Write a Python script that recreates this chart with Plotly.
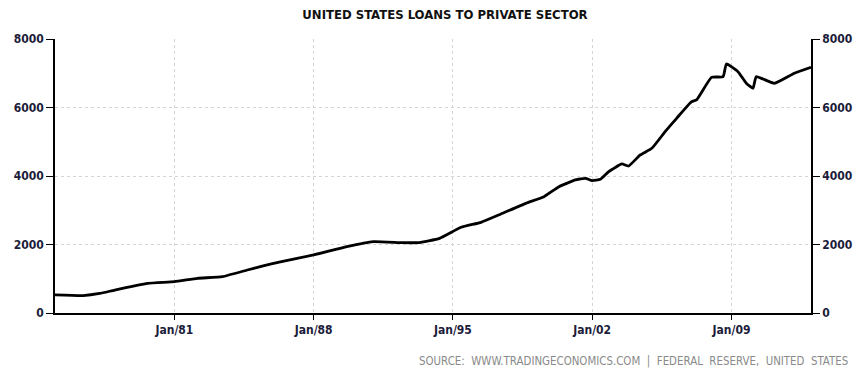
import plotly.graph_objects as go

dates = ["1975-01-01", "1976-06-01", "1977-04-01", "1978-01-01", "1979-09-01", "1981-01-01",
         "1982-03-01", "1983-06-01", "1984-09-01", "1985-06-01", "1986-05-01", "1988-01-01",
         "1989-09-01", "1991-01-01", "1992-06-01", "1993-04-01", "1994-05-01",
         "1995-06-01", "1996-06-01", "1997-06-01", "1998-09-01", "1999-08-01",
         "2000-05-01", "2001-03-01", "2001-09-01", "2002-01-01", "2002-06-01",
         "2002-11-01", "2003-07-01", "2003-11-01", "2004-06-01", "2005-01-01",
         "2005-09-01", "2006-04-01", "2007-01-01", "2007-04-01", "2008-01-01",
         "2008-08-01", "2008-10-01", "2009-05-01", "2009-10-01", "2010-02-01",
         "2010-04-01", "2011-03-01", "2012-03-01", "2013-01-01"]
values = [530, 510, 570, 670, 866, 915,
          1012, 1061, 1256, 1370, 1490, 1694,
          1937, 2083, 2054, 2054, 2180,
          2502, 2648, 2890, 3202, 3397,
          3689, 3884, 3933, 3864, 3903,
          4127, 4351, 4292, 4614, 4809,
          5294, 5684, 6170, 6220, 6880,
          6900, 7271, 7047, 6707, 6561,
          6900, 6707, 7000, 7175]

tick_dates = ["1981-01-01", "1988-01-01", "1995-01-01", "2002-01-01", "2009-01-01"]
tick_labels = ["Jan/81", "Jan/88", "Jan/95", "Jan/02", "Jan/09"]
y_ticks = [0, 2000, 4000, 6000, 8000]

title_text = "UNITED STATES LOANS TO PRIVATE SECTOR"
source_text = "SOURCE:&nbsp; WWW.TRADINGECONOMICS.COM&nbsp; |&nbsp; FEDERAL&nbsp; RESERVE,&nbsp; UNITED&nbsp; STATES"

fig = go.Figure()
fig.add_trace(go.Scatter(x=dates, y=values, mode="lines",
                         line=dict(color="black", width=2.8, shape="spline", smoothing=0.4),
                         showlegend=False))
fig.add_trace(go.Scatter(x=dates, y=values, mode="lines", yaxis="y2",
                         line=dict(color="rgba(0,0,0,0)", width=0), showlegend=False,
                         hoverinfo="skip"))

FONT = "DejaVu Sans Condensed, Verdana, sans-serif"
tick_font = dict(family=FONT, size=12, color="#1c1c3a", weight="bold")

fig.update_layout(
    width=864, height=380,
    margin=dict(l=55, r=48, t=39, b=67),
    paper_bgcolor="white", plot_bgcolor="white",
    title=dict(text="<b>" + title_text + "</b>", x=445 / 864, xanchor="center",
               y=0.975, yanchor="top",
               font=dict(family=FONT, size=13, color="#111")),
    xaxis=dict(type="date", range=["1975-01-01", "2013-01-01"],
               tickvals=tick_dates, ticktext=tick_labels,
               showgrid=True, gridcolor="#d4d4d4", griddash="dot", gridwidth=1,
               showline=True, linecolor="black", linewidth=1.5,
               ticks="outside", ticklen=5, tickcolor="black",
               tickfont=tick_font, zeroline=False),
    yaxis=dict(range=[0, 8000], tickvals=y_ticks,
               showgrid=True, gridcolor="#d4d4d4", griddash="dot", gridwidth=1,
               showline=True, linecolor="black", linewidth=1.5,
               ticks="outside", ticklen=7, tickcolor="black",
               tickfont=tick_font, zeroline=False),
    yaxis2=dict(range=[0, 8000], tickvals=y_ticks, overlaying="y", side="right",
                showgrid=False, showline=True, linecolor="black", linewidth=1.5,
                ticks="outside", ticklen=7, tickcolor="black",
                tickfont=tick_font, zeroline=False),
    annotations=[dict(text=source_text, xref="paper", yref="paper",
                      x=1.0 + 39 / 761, y=-48 / 274, xanchor="right", yanchor="middle",
                      showarrow=False,
                      font=dict(family=FONT, size=11.4, color="#8a8a8a"))],
)

fig.write_html("out.html")
